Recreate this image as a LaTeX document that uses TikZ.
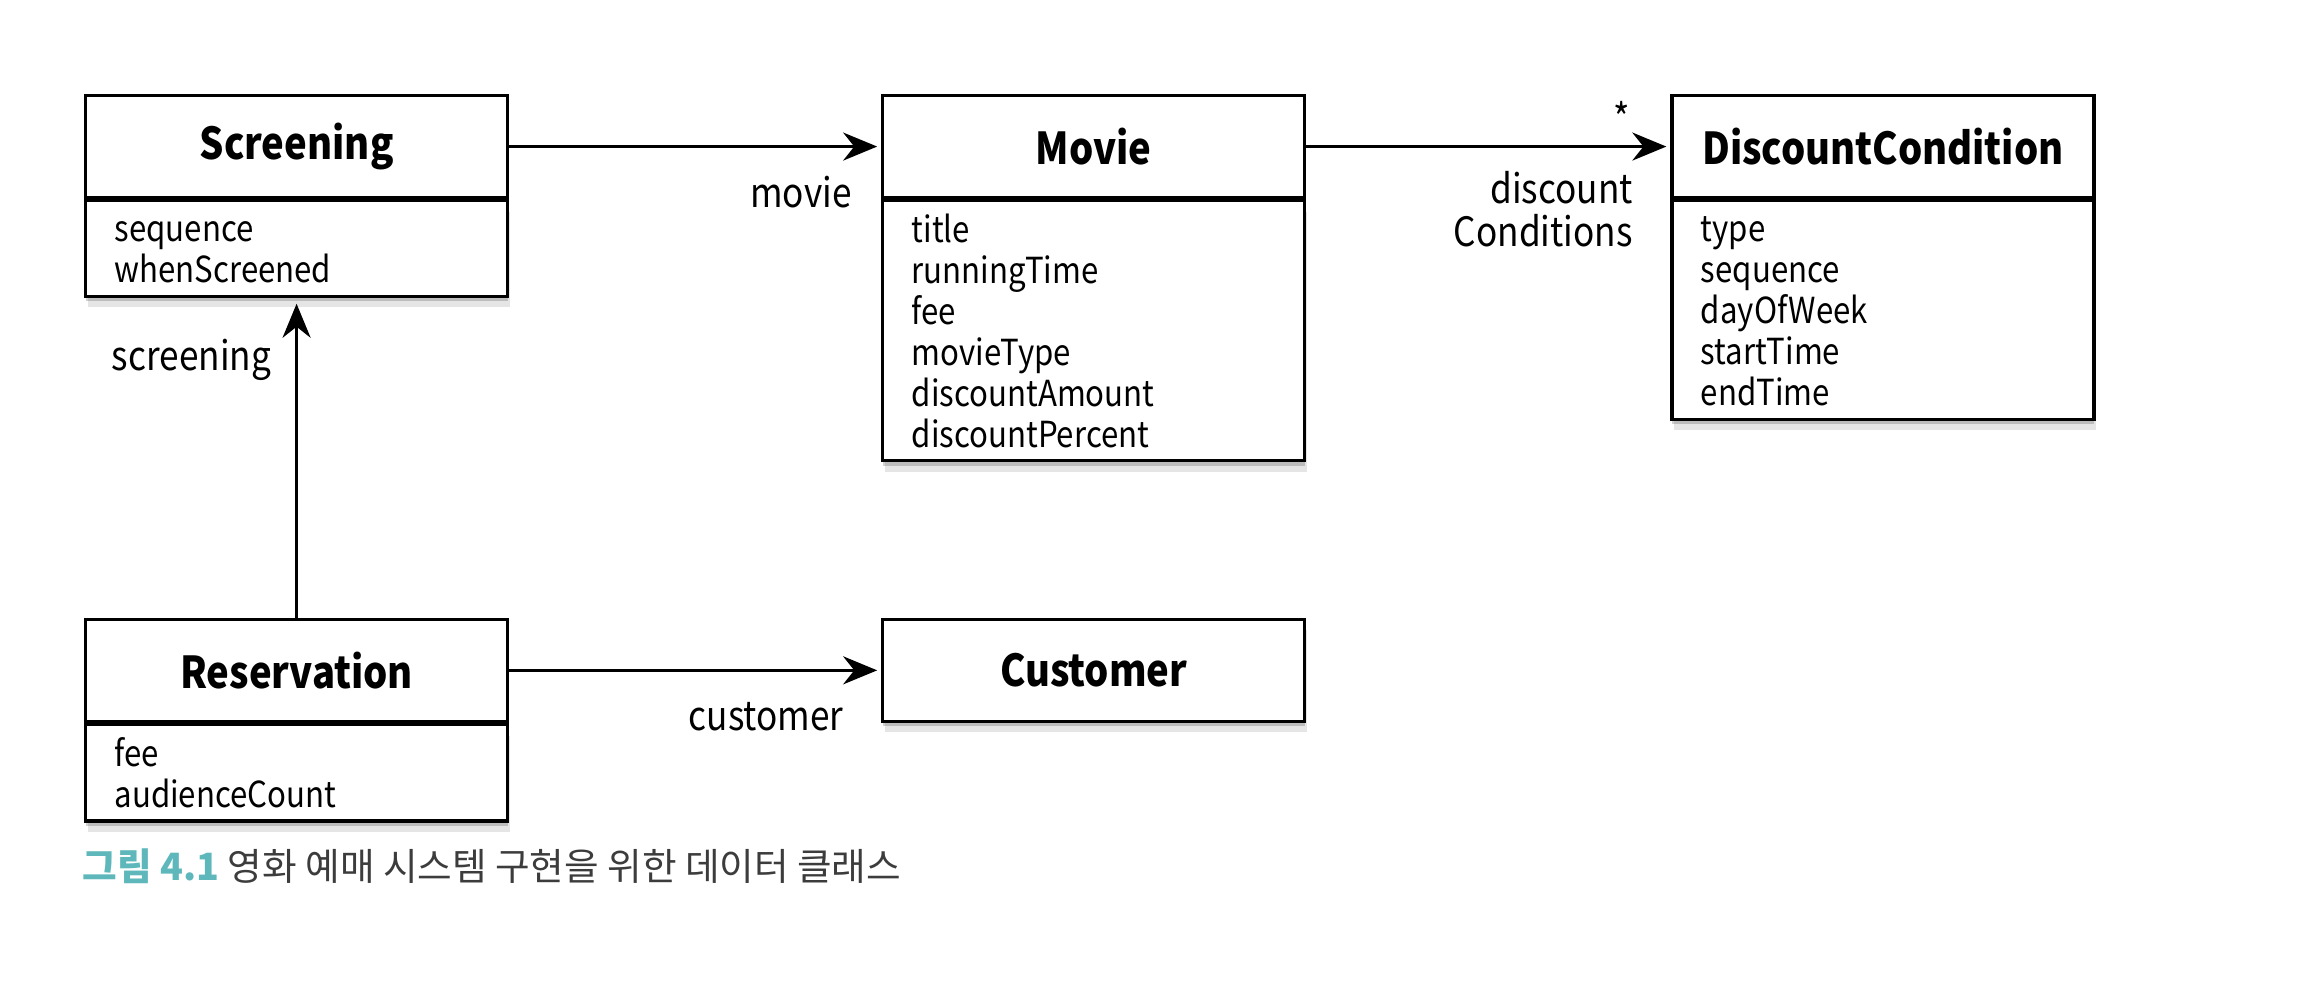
\documentclass[tikz,border=0pt]{standalone}
\usepackage{fontspec}
\setmainfont[FakeStretch=0.87]{Noto Sans CJK KR}
\newfontfamily\capfont{Noto Sans CJK KR}
\usepackage{tikz}
\usetikzlibrary{arrows.meta,positioning,calc,shadows}
\definecolor{capteal}{RGB}{94,183,186}
\definecolor{capgray}{RGB}{60,60,60}

\begin{document}
\begin{tikzpicture}[>={Stealth[length=3.4mm,width=2.8mm]}, line width=0.9pt, node distance=0pt]
% styles
\tikzstyle{classname}=[rectangle,draw,fill=white,minimum width=42.2mm,minimum height=10.2mm,inner sep=0pt,font=\fontsize{12.5}{15}\selectfont\bfseries]
\tikzstyle{attrs}=[rectangle,draw,fill=white,minimum width=42.2mm,text width=36.4mm,inner xsep=2.9mm,inner ysep=1.3mm,align=left,
                   font=\fontsize{10.2}{11.66}\selectfont,execute at begin node={\rule{0pt}{2.8mm}}]
\tikzstyle{shade}=[drop shadow={shadow xshift=0pt,shadow yshift=-0.5mm,opacity=0.18,fill=black},
                   drop shadow={shadow xshift=0.2mm,shadow yshift=-1.1mm,opacity=0.1,fill=black}]
\tikzstyle{lbl}=[font=\fontsize{11.5}{12.2}\selectfont,inner sep=0pt]

\useasboundingbox (0,0) rectangle (231mm,-100mm);

% Screening
\node[classname,anchor=north west] (scr) at (8.4mm,-9.4mm) {Screening};
\node[attrs,shade,below=of scr] (scrattr) {sequence\\whenScreened};

% Movie
\node[classname,right=37.2mm of scr] (mov) {Movie};
\node[attrs,shade,below=of mov] (movattr) {title\\runningTime\\fee\\movieType\\discountAmount\\discountPercent};

% DiscountCondition
\node[classname,right=36.4mm of mov] (dc) {DiscountCondition};
\node[attrs,shade,below=of dc] (dcattr) {type\\sequence\\dayOfWeek\\startTime\\endTime};

% Reservation
\node[classname,below=32mm of scrattr] (res) {Reservation};
\node[attrs,shade,below=of res] (resattr) {fee\\audienceCount};

% Customer
\node[classname,shade,right=37.2mm of res] (cus) {Customer};

% associations
\draw[->,shorten >=0.4mm] (scr) -- (mov);
\draw[->,shorten >=0.4mm] (mov) -- (dc);
\draw[->,shorten >=0.4mm] (res) -- (cus);
\draw[->,shorten >=0.6mm] (res) -- (scrattr);

% role names
\node[lbl,left=2.8mm of mov.west,yshift=-4.6mm] (lmovie) {movie};
\node[lbl,left=3.6mm of dc.west,yshift=-6.3mm,align=right] (ldc) {discount\\Conditions};
\node[lbl,left=3.9mm of dc.west,yshift=2.9mm] (lstar) {*};
\node[lbl,left=3.6mm of cus.west,yshift=-4.6mm] (lcus) {customer};
\node[lbl,anchor=east] (lscr) at ($(scrattr.south)+(-2.4mm,-6.2mm)$) {screening};

% caption
\node[anchor=west,inner sep=0pt,font=\capfont\fontsize{10.7}{12}\selectfont,text=capgray] (cap)
  at ($(resattr.south west)+(-0.3mm,-4.4mm)$) {\textcolor{capteal}{\bfseries 그림 4.1} 영화 예매 시스템 구현을 위한 데이터 클래스};
\end{tikzpicture}
\end{document}
